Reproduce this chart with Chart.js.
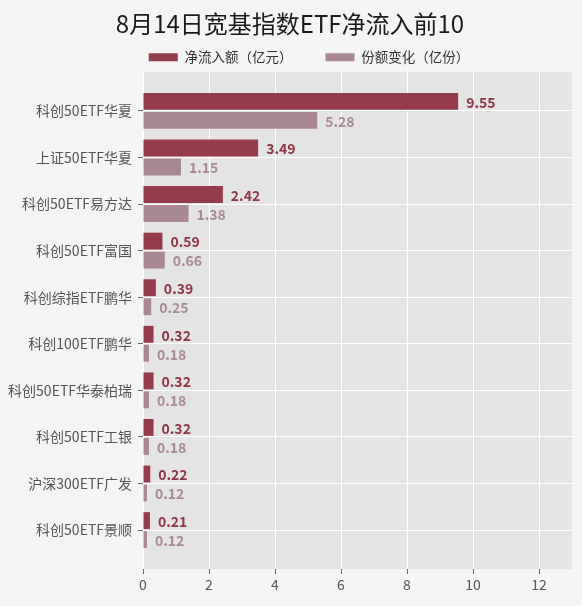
<!DOCTYPE html>
<html>
<head>
<meta charset="utf-8">
<script src="https://cdn.jsdelivr.net/npm/chart.js@4"></script>
<style>
  html, body { margin: 0; padding: 0; background: #f4f4f4; }
  #wrap { width: 582px; height: 606px; position: relative; }
</style>
</head>
<body>
<div id="wrap"><canvas id="c"></canvas></div>
<script>
const titleText = '8月14日宽基指数ETF净流入前10';
const categories = ['科创50ETF华夏', '上证50ETF华夏', '科创50ETF易方达', '科创50ETF富国', '科创综指ETF鹏华',
  '科创100ETF鹏华', '科创50ETF华泰柏瑞', '科创50ETF工银', '沪深300ETF广发', '科创50ETF景顺'];
const seriesNames = ['净流入额（亿元）', '份额变化（亿份）'];
const netInflow = [9.55, 3.49, 2.42, 0.59, 0.39, 0.32, 0.32, 0.32, 0.22, 0.21];
const shareChange = [5.28, 1.15, 1.38, 0.66, 0.25, 0.18, 0.18, 0.18, 0.12, 0.12];
const xTicks = [0, 2, 4, 6, 8, 10, 12];

const FONT = "'Noto Sans CJK SC', 'Noto Sans', sans-serif";
const barColors = ['#943b4c', '#aa8891'];
const labelColors = ['#8e3546', '#a88a93'];
const PAD_LEFT = 8;

const bgPlugin = {
  id: 'bg',
  beforeDraw(chart) {
    const { ctx, chartArea: a } = chart;
    ctx.save();
    ctx.fillStyle = '#f4f4f4';
    ctx.fillRect(0, 0, chart.width, chart.height);
    ctx.fillStyle = '#e4e4e4';
    ctx.fillRect(a.left, a.top, a.right - a.left, a.bottom - a.top);
    ctx.restore();
  }
};

// shift the legend block right so it sits where the reference legend sits
const legendShift = {
  id: 'legendShift',
  afterLayout(chart) {
    if (chart.legend) { chart.legend.left += 38; }
  }
};

const valueLabels = {
  id: 'valueLabels',
  afterDatasetsDraw(chart) {
    const ctx = chart.ctx;
    ctx.save();
    ctx.font = 'bold 14px ' + FONT;
    ctx.textAlign = 'left';
    ctx.textBaseline = 'middle';
    chart.data.datasets.forEach((ds, di) => {
      const meta = chart.getDatasetMeta(di);
      ctx.fillStyle = labelColors[di];
      meta.data.forEach((el, i) => {
        const src = di === 0 ? netInflow : shareChange;
        ctx.fillText(src[i].toFixed(2), el.x + 8, el.y + 1);
      });
    });
    ctx.restore();
  }
};

new Chart(document.getElementById('c'), {
  type: 'bar',
  data: {
    datasets: [
      { label: seriesNames[0], data: netInflow.map((v, i) => ({ x: v, y: i })), backgroundColor: barColors[0], borderWidth: 0 },
      { label: seriesNames[1], data: shareChange.map((v, i) => ({ x: v, y: i })), backgroundColor: barColors[1], borderWidth: 0 }
    ]
  },
  options: {
    indexAxis: 'y',
    responsive: true,
    maintainAspectRatio: false,
    animation: false,
    categoryPercentage: 0.815,
    barPercentage: 0.89,
    layout: { padding: { left: PAD_LEFT, right: 10, top: 0, bottom: 0 } },
    plugins: {
      tooltip: { enabled: false },
      title: {
        display: true,
        text: titleText,
        color: '#1a1a1a',
        font: { family: FONT, size: 24, weight: 'normal', lineHeight: 1.2 },
        padding: { top: 9.6, bottom: -20.9 }
      },
      legend: {
        display: true,
        position: 'top',
        align: 'center',
        maxHeight: 54.5,
        labels: {
          boxWidth: 29,
          boxHeight: 8,
          padding: 33,
          color: '#333',
          font: { family: FONT, size: 13.5 }
        }
      }
    },
    scales: {
      x: {
        type: 'linear',
        position: 'bottom',
        min: 0,
        max: 13,
        afterBuildTicks(scale) { scale.ticks = xTicks.map(v => ({ value: v })); },
        afterFit(scale) { scale.height = 37; },
        grid: { color: '#ffffff', lineWidth: 1, tickLength: 5, tickColor: '#666' },
        border: { display: false },
        ticks: { color: '#555', font: { family: FONT, size: 14 }, padding: 2 }
      },
      y: {
        type: 'linear',
        reverse: true,
        offset: false,
        min: -0.835,
        max: 9.835,
        afterBuildTicks(scale) { scale.ticks = categories.map((c, i) => ({ value: i })); },
        afterFit(scale) { scale.width = 143 - PAD_LEFT; },
        grid: { offset: false, color: '#ffffff', lineWidth: 1, tickLength: 5, tickColor: '#666' },
        border: { display: false },
        ticks: {
          autoSkip: false,
          color: '#555',
          padding: 6,
          font: { family: FONT, size: 14 },
          callback: (v) => categories[v]
        }
      }
    }
  },
  plugins: [bgPlugin, legendShift, valueLabels]
});
</script>
</body>
</html>
